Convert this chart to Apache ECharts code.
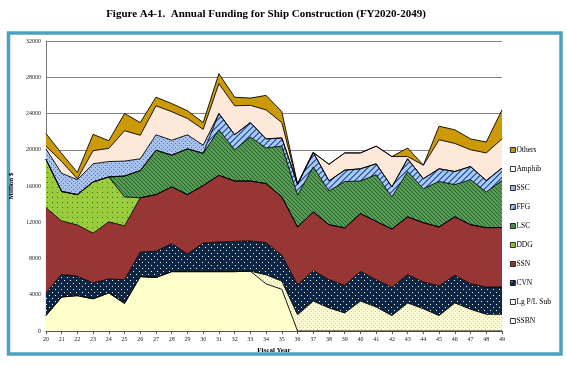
<!DOCTYPE html>
<html>
<head>
<meta charset="utf-8">
<script src="https://cdn.jsdelivr.net/npm/echarts@6/dist/echarts.min.js"></script>
<style>
html,body{margin:0;padding:0;background:#fff;}
#c{width:567px;height:366px;}
</style>
</head>
<body>
<div id="c"></div>
<script>
const years = ['20','21','22','23','24','25','26','27','28','29','30','31','32','33','34','35','36','37','38','39','40','41','42','43','44','45','46','47','48','49'];
const ssbn   = [1700,3750,3900,3550,4200,3050,6000,5900,6550,6550,6550,6550,6550,6600,5200,4600,0,0,0,0,0,0,0,0,0,0,0,0,0,0];
const lgPlSub= [0,0,0,0,0,0,0,0,0,0,0,0,0,0,1000,900,1800,3300,2550,2000,3300,2650,1700,3100,2450,1700,3100,2400,1850,1850];
const cvn    = [2500,2500,2150,1750,1550,2600,2700,2900,3100,1950,3150,3270,3340,3330,3550,2850,3300,3360,3110,3040,3280,3010,3120,3120,2960,3270,3050,2820,3000,3000];
const ssn    = [9400,5900,5650,5500,6300,5950,6000,6250,6250,6550,6350,7360,6660,6620,6510,6440,6380,6470,6070,6330,6370,6440,6430,6380,6540,6510,6450,6510,6550,6570];
const ddg    = [5350,3250,3350,5650,4950,3200,0,0,0,0,0,0,0,0,0,0,0,0,0,0,0,0,0,0,0,0,0,0,0,0];
const lsc    = [0,0,0,0,0,2300,3000,4900,3500,5050,3550,5020,3450,4850,3940,5610,3520,4970,3720,5130,3600,5150,3550,5000,3750,5020,3550,4970,3940,5180];
const ffg    = [0,0,0,0,0,0,0,0,0,0,0,1800,1660,1600,1000,900,1200,1600,1120,1250,1350,1200,1100,1400,1100,1400,1450,1450,1260,1380];
const ssc    = [1150,2000,1650,2000,1700,1650,1300,1700,1650,1550,900,0,0,0,0,0,0,0,0,0,0,0,0,0,0,0,0,0,0,0];
const amphib = [300,1300,100,1450,1450,3350,2600,3200,3150,1800,1750,3300,3190,1900,3200,1700,0,0,1830,1900,1750,1950,3350,250,1500,3200,3100,1850,3050,3220];
const others = [1400,900,700,1800,850,1900,1400,950,900,850,750,1100,950,800,1600,1200,0,0,0,0,0,0,0,950,0,1500,1500,1200,1200,3200];
const yTicks = [0,4000,8000,12000,16000,20000,24000,28000,32000];

function pattern(size, bg, fg, fn) {
  const c = document.createElement('canvas');
  c.width = size; c.height = size;
  const g = c.getContext('2d');
  g.fillStyle = bg; g.fillRect(0, 0, size, size);
  g.fillStyle = fg;
  for (let x = 0; x < size; x++) for (let y = 0; y < size; y++) if (fn(x, y)) g.fillRect(x, y, 1, 1);
  return { image: c, repeat: 'repeat' };
}
const fills = {
  'SSBN': '#FFFFCC',
  'Lg P/L Sub': pattern(4, '#FBFCD2', '#B9D58E', (x, y) => (x === 1 && y === 1) || (x === 3 && y === 3)),
  'CVN': pattern(6, '#0E2646', '#FFFFFF', (x, y) => (x === 1 && y === 1) || (x === 4 && y === 4)),
  'SSN': '#983535',
  'DDG': pattern(5, '#9ACD3E', '#3E6A1A', (x, y) => (x === 2 && y === 2)),
  'LSC': pattern(4, '#559A55', '#2A622A', (x, y) => x === y),
  'FFG': pattern(6, '#A9C9F2', '#3A68B0', (x, y) => ((x + y) % 6) < 2),
  'SSC': pattern(4, '#A7C2EE', '#5670B0', (x, y) => (x === 1 && y === 1) || (x === 3 && y === 3)),
  'Amphib': '#FDE8DA',
  'Others': '#CC9A06'
};
const seriesDefs = [
  ['SSBN', ssbn], ['Lg P/L Sub', lgPlSub], ['CVN', cvn], ['SSN', ssn], ['DDG', ddg],
  ['LSC', lsc], ['FFG', ffg], ['SSC', ssc], ['Amphib', amphib], ['Others', others]
];
const legendWhite = { 'SSBN': 1, 'Lg P/L Sub': 1, 'Amphib': 1 };

const chart = echarts.init(document.getElementById('c'), null, { renderer: 'canvas' });
const serif = 'Liberation Serif, Times New Roman, serif';
chart.setOption({
  animation: false,
  backgroundColor: '#fff',
  graphic: [
    { type: 'rect', shape: { x: 8.5, y: 33, width: 552.5, height: 321 }, style: { fill: 'none', stroke: '#4DA1BF', lineWidth: 3.5 }, z: 0 },
    { type: 'text', x: 266, y: 14, style: { text: 'Figure A4-1.  Annual Funding for Ship Construction (FY2020-2049)', font: 'bold 11px ' + serif, fill: '#000', textAlign: 'center', textVerticalAlign: 'middle' } }
  ],
  grid: { left: 45, right: 65, top: 41, bottom: 35, containLabel: false },
  legend: {
    orient: 'vertical', left: 505, top: 140,
    itemWidth: 5, itemHeight: 5, itemGap: 9,
    icon: 'rect',
    textStyle: { fontFamily: serif, fontSize: 7.5, color: '#000', lineHeight: 10, padding: [0, 0, 0, -4] },
    data: seriesDefs.slice().reverse().map(d => ({
      name: d[0],
      itemStyle: { color: legendWhite[d[0]] ? '#fff' : fills[d[0]], borderColor: '#000', borderWidth: 0.8 }
    }))
  },
  xAxis: {
    type: 'category', data: years, boundaryGap: false,
    name: 'Fiscal Year', nameLocation: 'middle', nameGap: 16,
    nameTextStyle: { fontFamily: serif, fontSize: 7, fontWeight: 'bold', color: '#000' },
    axisLine: { lineStyle: { color: '#555', width: 1 } },
    axisTick: { show: true, length: 3, lineStyle: { color: '#555' } },
    axisLabel: { fontFamily: serif, fontSize: 6, color: '#222', margin: 5, interval: 0 }
  },
  yAxis: {
    type: 'value', min: 0, max: 32000, interval: 4000,
    name: 'Million $', nameLocation: 'middle', nameGap: 23, nameRotate: 90,
    nameTextStyle: { fontFamily: serif, fontSize: 7, fontWeight: 'bold', color: '#000' },
    axisLine: { show: true, lineStyle: { color: '#777', width: 1 } },
    axisTick: { show: false },
    axisLabel: { fontFamily: serif, fontSize: 6, color: '#222', margin: 5, formatter: v => yTicks.indexOf(v) >= 0 ? String(v) : '' },
    splitLine: { lineStyle: { color: '#858585', width: 1 } }
  },
  series: seriesDefs.map(d => ({
    name: d[0], type: 'line', stack: 'total', data: d[1],
    symbol: 'none', smooth: false,
    lineStyle: { color: '#000', width: 0.9 },
    itemStyle: { color: fills[d[0]] },
    areaStyle: { color: fills[d[0]], opacity: 1 },
    emphasis: { disabled: true }
  }))
});
</script>
</body>
</html>
